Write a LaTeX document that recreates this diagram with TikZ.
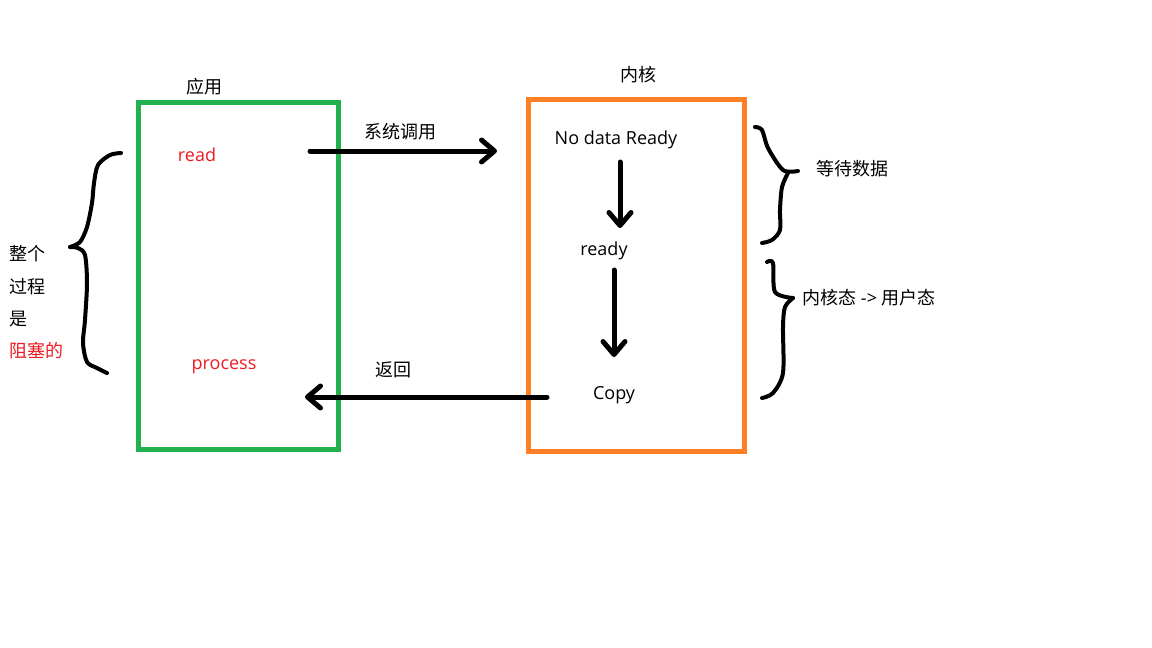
\documentclass[tikz,border=0pt]{standalone}
\usepackage{fontspec}
\setmainfont{Noto Sans CJK SC}
\newfontfamily\latinfont{Open Sans}
\usetikzlibrary{arrows.meta}
\definecolor{pgreen}{HTML}{22B14C}
\definecolor{porange}{HTML}{FF7F27}
\definecolor{pred}{HTML}{ED1C24}
\begin{document}
\begin{tikzpicture}[x=1pt,y=-1pt,
  txt/.style={inner sep=0pt,font=\fontsize{18}{21}\selectfont},
  ltxt/.style={inner sep=0pt,font=\latinfont\fontsize{18}{21}\selectfont},
  redtxt/.style={ltxt,text=pred},
  boxg/.style={draw=pgreen,line width=5pt,minimum width=200pt,minimum height=347pt,inner sep=0pt},
  boxo/.style={draw=porange,line width=5pt,minimum width=216pt,minimum height=352pt,inner sep=0pt},
  arr/.style={line width=5pt,line cap=round,-{Straight Barb[length=13pt,width=22pt,line width=5pt,round]}},
  brace/.style={line width=4pt,line cap=round,line join=round}]
\useasboundingbox[fill=white] (0,0) rectangle (1152,648);
\node[boxg] (app) at (238,275.5) {};
\node[boxo] (kern) at (636,275) {};
\node[txt] (applbl) at (204,87) {应用};
\node[txt] (kernlbl) at (638,75) {内核};
\node[redtxt] (read) at (197,155) {read};
\node[redtxt] (proc) at (224,367) {process};
\node[ltxt] (nodata) at (616,140) {No data Ready};
\node[ltxt] (ready) at (604,251) {ready};
\node[ltxt] (copy) at (614,395) {Copy};
\node[txt] (syscall) at (400,132) {系统调用};
\node[txt] (ret) at (393,370) {返回};
\node[txt] (wait) at (852,169) {等待数据};
\node[txt] (k2u) at (869,298) {内核态 {\latinfont ->} 用户态};
\node[txt,anchor=west] (l1) at (9,254) {整个};
\node[txt,anchor=west] (l2) at (9,287) {过程};
\node[txt,anchor=west] (l3) at (9,319) {是};
\node[txt,text=pred,anchor=west] (l4) at (9,351) {阻塞的};
\coordinate (a1s) at (310,151);
\coordinate (a1e) at (497,151);
\coordinate (a2s) at (547,397);
\coordinate (a2e) at (305,397);
\coordinate (a3s) at (620,162);
\coordinate (a3e) at (620,228);
\coordinate (a4s) at (614,270);
\coordinate (a4e) at (614,357);
\draw[arr] (a1s) -- (a1e);
\draw[arr] (a2s) -- (a2e);
\draw[arr] (a3s) -- (a3e);
\draw[arr] (a4s) -- (a4e);
% left brace
\draw[brace] plot[smooth,tension=0.5] coordinates {(121,153) (110,155) (98,165) (94,183) (92,203) (87,227) (80,242) (70,247)};
\draw[brace] plot[smooth,tension=0.5] coordinates {(70,247) (78,248) (85,255) (87,283) (85,320) (83,343) (87,362) (97,368) (107,373)};
% right brace 1
\draw[brace] plot[smooth,tension=0.5] coordinates {(755,127) (762,130) (768,148) (783,170) (798,171)};
\draw[brace] plot[smooth,tension=0.5] coordinates {(788,173) (782,187) (780,210) (780,230) (772,240) (762,243)};
% right brace 2
\draw[brace] plot[smooth,tension=0.5] coordinates {(767,262) (773,263) (775,292) (793,298)};
\draw[brace] plot[smooth,tension=0.5] coordinates {(793,298) (785,307) (783,327) (783,373) (773,393) (762,398)};
\end{tikzpicture}
\end{document}
